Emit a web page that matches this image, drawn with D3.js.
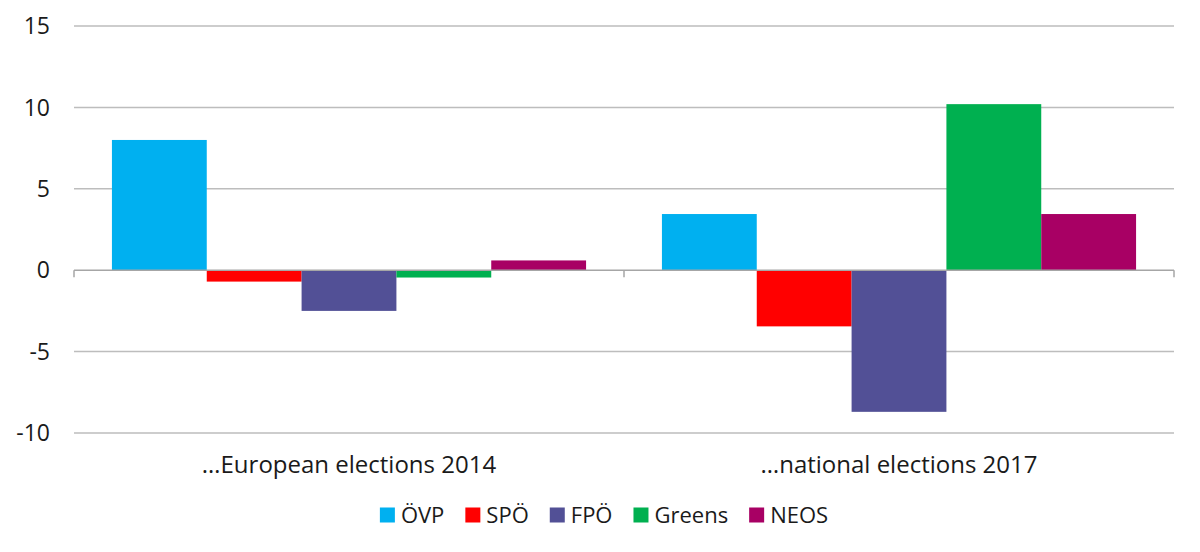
<!DOCTYPE html>
<meta charset="utf-8">
<script src="https://d3js.org/d3.v7.min.js"></script>
<style>
  body { margin: 0; background: #fff; }
  text { font-family: "Open Sans", "Noto Sans", sans-serif; fill: #1a1a1a; }
</style>
<div id="chart"></div>
<script>
  // data
  var categories = ["…European elections 2014", "…national elections 2017"];
  var parties = ["ÖVP", "SPÖ", "FPÖ", "Greens", "NEOS"];
  var colors = ["#00b0f0", "#ff0000", "#525096", "#00b050", "#a80064"];
  var values2014 = [8.0, -0.7, -2.5, -0.45, 0.6];
  var values2017 = [3.45, -3.45, -8.7, 10.2, 3.45];
  var yTicks = [-10, -5, 0, 5, 10, 15];

  var seriesByCat = [values2014, values2017];

  var width = 1200, height = 552;
  var margin = {top: 26, right: 26, bottom: 119, left: 74};

  var svg = d3.select("#chart").append("svg")
    .attr("width", width)
    .attr("height", height);

  var y = d3.scaleLinear()
    .domain([-10, 15])
    .range([height - margin.bottom, margin.top]);

  var x0 = d3.scaleBand()
    .domain(categories)
    .range([margin.left, width - margin.right])
    .padding(0);

  var x1 = d3.scaleBand()
    .domain(parties)
    .range([0, x0.bandwidth()])
    .paddingInner(0)
    .paddingOuter(0.4);

  var color = d3.scaleOrdinal().domain(parties).range(colors);

  // gridlines
  svg.append("g")
    .selectAll("line")
    .data(yTicks.filter(function(d) { return d !== 0; }))
    .enter().append("line")
      .attr("x1", margin.left)
      .attr("x2", width - margin.right)
      .attr("y1", function(d) { return y(d); })
      .attr("y2", function(d) { return y(d); })
      .attr("stroke", "#bdbdbd")
      .attr("stroke-width", 1.5);

  // y labels
  svg.append("g")
    .selectAll("text")
    .data(yTicks)
    .enter().append("text")
      .attr("x", 50)
      .attr("y", function(d) { return y(d); })
      .attr("dy", "0.36em")
      .attr("text-anchor", "end")
      .style("font-size", "23px")
      .text(function(d) { return d; });

  // bars
  var groups = svg.append("g")
    .selectAll("g")
    .data(categories)
    .enter().append("g")
      .attr("transform", function(d) { return "translate(" + x0(d) + ",0)"; });

  groups.selectAll("rect")
    .data(function(d, i) {
      return parties.map(function(p, j) { return {party: p, value: seriesByCat[i][j]}; });
    })
    .enter().append("rect")
      .attr("x", function(d) { return x1(d.party); })
      .attr("width", x1.bandwidth())
      .attr("y", function(d) { return y(Math.max(0, d.value)); })
      .attr("height", function(d) { return Math.abs(y(d.value) - y(0)); })
      .attr("fill", function(d) { return color(d.party); });

  // zero axis with category ticks
  var xAxis = svg.append("g")
    .attr("transform", "translate(0," + y(0) + ")");
  xAxis.append("line")
    .attr("x1", margin.left)
    .attr("x2", width - margin.right)
    .attr("stroke", "#a6a6a6")
    .attr("stroke-width", 1.5);
  var tickX = [margin.left].concat(categories.map(function(c) { return x0(c) + x0.bandwidth(); }));
  xAxis.selectAll("line.tick")
    .data(tickX)
    .enter().append("line")
      .attr("class", "tick")
      .attr("x1", function(d) { return d; })
      .attr("x2", function(d) { return d; })
      .attr("y1", 0)
      .attr("y2", 7)
      .attr("stroke", "#a6a6a6")
      .attr("stroke-width", 1.5);

  // category labels
  svg.append("g")
    .selectAll("text")
    .data(categories)
    .enter().append("text")
      .attr("x", function(d) { return x0(d) + x0.bandwidth() / 2; })
      .attr("y", 464)
      .attr("dy", "0.36em")
      .attr("text-anchor", "middle")
      .style("font-size", "24px")
      .text(function(d) { return d; });

  // legend
  var legend = svg.append("g");
  var items = legend.selectAll("g")
    .data(parties)
    .enter().append("g");
  items.append("rect")
    .attr("width", 15)
    .attr("height", 15)
    .attr("y", -7.5)
    .attr("fill", function(d) { return color(d); });
  items.append("text")
    .attr("x", 21)
    .attr("dy", "0.36em")
    .style("font-size", "22px")
    .text(function(d) { return d; });

  var pos = 0;
  items.each(function() {
    var w = this.querySelector("text").getComputedTextLength();
    d3.select(this).attr("transform", "translate(" + pos + ",0)");
    pos += 21 + w + 21;
  });
  var total = pos - 21;
  legend.attr("transform", "translate(" + (604 - total / 2) + ",515)");
</script>
